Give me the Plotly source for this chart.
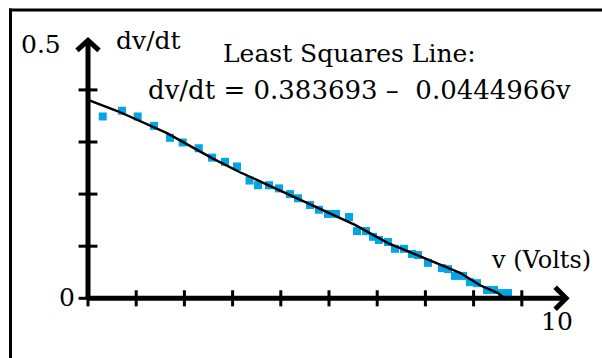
import plotly.graph_objects as go

# ---- data ----
v = [0.305, 0.705, 1.031, 1.369, 1.701, 1.965, 2.297, 2.573, 2.842, 3.091,
     3.351, 3.527, 3.755, 3.963, 4.191, 4.357, 4.606, 4.793, 4.979, 5.145,
     5.415, 5.581, 5.768, 5.913, 6.037, 6.224, 6.369, 6.556, 6.722, 6.846,
     7.054, 7.344, 7.469, 7.614, 7.780, 7.925, 8.071, 8.278, 8.423, 8.589, 8.714]
dvdt = [0.349, 0.360, 0.349, 0.331, 0.308, 0.299, 0.288, 0.270, 0.262, 0.253,
        0.226, 0.217, 0.217, 0.211, 0.200, 0.192, 0.179, 0.170, 0.162, 0.162,
        0.156, 0.129, 0.129, 0.118, 0.112, 0.108, 0.095, 0.095, 0.085, 0.083,
        0.068, 0.058, 0.056, 0.043, 0.043, 0.031, 0.029, 0.016, 0.016, 0.010, 0.010]

fit_v = [0.0, 0.622, 1.639, 2.573, 3.154, 4.710, 5.539, 6.224, 7.718, 8.133, 8.506, 8.610]
fit_dvdt = [0.381, 0.359, 0.317, 0.269, 0.242, 0.177, 0.141, 0.106, 0.049, 0.025, 0.010, 0.0025]

x_ticks = [0, 1, 2, 3, 4, 5, 6, 7, 8, 9]
y_ticks = [0, 0.1, 0.2, 0.3, 0.4]
x_axis_end = 9.92
y_axis_end = 0.495

title_line1 = "Least Squares Line:"
title_line2 = "dv/dt = 0.383693 \u2013\u00a0 0.0444966v"
y_label = "dv/dt"
x_label = "v (Volts)"
y_top_label = "0.5"
x_end_label = "10"
origin_label = "0"

# ---- geometry ----
W, H = 602, 358
X0_PX, X_SCALE = 88.0, 48.2     # pixel of v=0, pixels per volt
Y0_PX, Y_SCALE = 298.3, 521.0   # pixel of dv/dt=0, pixels per unit
xr = [(0 - X0_PX) / X_SCALE, (W - X0_PX) / X_SCALE]
yr = [(Y0_PX - H) / Y_SCALE, Y0_PX / Y_SCALE]

def dx(px):
    return px / X_SCALE

def dy(px):
    return px / Y_SCALE

BLUE = "#00a6e6"
FONT = "DejaVu Serif"
FS = 25

fig = go.Figure()

# data squares
fig.add_trace(go.Scatter(x=v, y=dvdt, mode="markers",
                         marker=dict(symbol="square", size=8, color=BLUE,
                                     line=dict(width=0)),
                         hoverinfo="skip"))
# fitted line
fig.add_trace(go.Scatter(x=fit_v, y=fit_dvdt, mode="lines",
                         line=dict(color="black", width=2.4), hoverinfo="skip"))

# axes lines
fig.add_trace(go.Scatter(x=[0, x_axis_end], y=[0, 0], mode="lines",
                         line=dict(color="black", width=5), hoverinfo="skip"))
fig.add_trace(go.Scatter(x=[0, 0], y=[0, y_axis_end], mode="lines",
                         line=dict(color="black", width=5), hoverinfo="skip"))

# arrow heads (chevrons)
fig.add_trace(go.Scatter(
    x=[x_axis_end - dx(11), x_axis_end, x_axis_end - dx(11)],
    y=[dy(11), 0, -dy(11)], mode="lines",
    line=dict(color="black", width=5), hoverinfo="skip"))
fig.add_trace(go.Scatter(
    x=[-dx(11), 0, dx(11)],
    y=[y_axis_end - dy(10), y_axis_end, y_axis_end - dy(10)], mode="lines",
    line=dict(color="black", width=5), hoverinfo="skip"))

# tick marks
fig.add_trace(go.Scatter(x=x_ticks, y=[0] * len(x_ticks), mode="markers",
                         marker=dict(symbol="line-ns", size=11.5,
                                     line=dict(width=3, color="black")),
                         hoverinfo="skip"))
fig.add_trace(go.Scatter(x=[0] * len(y_ticks), y=y_ticks, mode="markers",
                         marker=dict(symbol="line-ew", size=13.5,
                                     line=dict(width=3, color="black")),
                         hoverinfo="skip"))

def px_ann(text, x, y, xanchor="left", size=FS):
    fig.add_annotation(text=text, xref="paper", yref="paper",
                       x=x / W, y=1 - y / H, xanchor=xanchor, yanchor="middle",
                       showarrow=False,
                       font=dict(family=FONT, size=size, color="black"))

px_ann(title_line1, 221, 53.5)
px_ann(title_line2, 146, 89.5, size=26)
px_ann(y_label, 114, 40.5)
px_ann(y_top_label, 63, 44.5, xanchor="right")
px_ann(origin_label, 77, 297.5, xanchor="right")
px_ann(x_label, 489, 259.5, size=24)
px_ann(x_end_label, 557, 321.5, xanchor="center")

# frame (top and left border)
fig.add_shape(type="line", xref="paper", yref="paper",
              x0=9 / W, x1=1.01, y0=1 - 10 / H, y1=1 - 10 / H,
              line=dict(color="black", width=3))
fig.add_shape(type="line", xref="paper", yref="paper",
              x0=10.5 / W, x1=10.5 / W, y0=1 - 8.5 / H, y1=-0.05,
              line=dict(color="black", width=3))

fig.update_layout(
    width=W, height=H,
    margin=dict(l=0, r=0, t=0, b=0),
    paper_bgcolor="white", plot_bgcolor="white",
    showlegend=False,
    xaxis=dict(range=xr, visible=False, fixedrange=True),
    yaxis=dict(range=yr, visible=False, fixedrange=True),
)

fig.write_html("out.html", config={"displayModeBar": False},
               post_script="document.body.style.margin='0';document.body.style.overflow='hidden';")
